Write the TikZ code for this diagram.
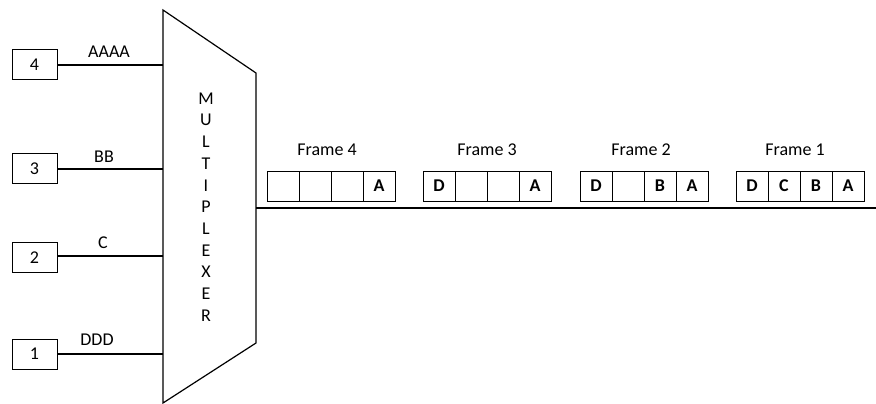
\documentclass[tikz,border=0pt]{standalone}
\usepackage{fontspec}
\setmainfont{Carlito}
\begin{document}
\begin{tikzpicture}[x=1pt,y=-1pt,
  every node/.style={font=\fontsize{18}{21}\selectfont, inner sep=0pt},
  inbox/.style={draw, line width=1pt, minimum width=45pt, minimum height=30pt},
  cell/.style={draw, line width=1pt, minimum width=32pt, minimum height=30pt, font=\fontsize{18}{21}\selectfont\bfseries},
  wire/.style={line width=1.2pt},
  lbl/.style={font=\fontsize{18}{21}\selectfont}]
\useasboundingbox (0,0) rectangle (876,404);
% inputs
\node[inbox] (in4) at (34.5,65) {4};
\node[inbox] (in3) at (34.5,168.5) {3};
\node[inbox] (in2) at (34.5,257.5) {2};
\node[inbox] (in1) at (34.5,354) {1};
% multiplexer
\coordinate (mtl) at (163,10);
\coordinate (mtr) at (256,73);
\coordinate (mbr) at (256,343);
\coordinate (mbl) at (163,403);
\draw[line width=1.2pt] (mtl) -- (mtr) -- (mbr) -- (mbl) -- cycle;
\node[align=center, font=\fontsize{18}{21.7}\selectfont] (mux) at (206,207) {M\\U\\L\\T\\I\\P\\L\\E\\X\\E\\R};
% input wires
\coordinate (m4) at (163,65);
\coordinate (m3) at (163,169);
\coordinate (m2) at (163,256);
\coordinate (m1) at (163,354);
\draw[wire] (in4.east) -- (m4);
\draw[wire] (in3.east |- m3) -- (m3);
\draw[wire] (in2.east |- m2) -- (m2);
\draw[wire] (in1.east) -- (m1);
\node[lbl] (l4) at (109,52) {AAAA};
\node[lbl] (l3) at (104,157) {BB};
\node[lbl] (l2) at (103,243) {C};
\node[lbl] (l1) at (97,340) {DDD};
% output
\coordinate (out) at (256,208);
\coordinate (end) at (876,208);
\draw[wire] (out) -- (end);
% frames
\foreach \fx/\fn/\lx/\a/\b/\c/\d in {267/4/327/{}/{}/{}/A, 423/3/487/D/{}/{}/A, 580/2/641/D/{}/B/A, 736/1/795/D/C/B/A}{
  \node[cell] (f\fn a) at (\fx+16,186) {\a};
  \node[cell] (f\fn b) at (\fx+48,186) {\b};
  \node[cell] (f\fn c) at (\fx+80,186) {\c};
  \node[cell] (f\fn d) at (\fx+112,186) {\d};
  \node[lbl] (ft\fn) at (\lx,150) {Frame \fn};
}
\end{tikzpicture}
\end{document}
